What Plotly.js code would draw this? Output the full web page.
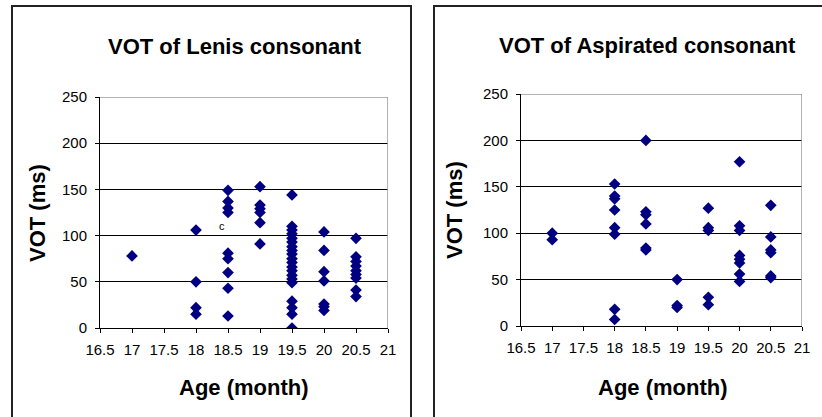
<!DOCTYPE html>
<html>
<head>
<meta charset="utf-8">
<script src="https://cdn.plot.ly/plotly-3.0.1.min.js"></script>
<style>html,body{margin:0;padding:0;background:#fff;}#chart{width:822px;height:417px;}</style>
</head>
<body>
<div id="chart"></div>
<script>
// ---- Data ----
const lenisAge = [
  17,
  18, 18, 18, 18,
  18.5, 18.5, 18.5, 18.5, 18.5, 18.5, 18.5, 18.5, 18.5,
  19, 19, 19, 19, 19, 19,
  19.5, 19.5, 19.5, 19.5, 19.5, 19.5, 19.5, 19.5, 19.5, 19.5, 19.5, 19.5, 19.5, 19.5, 19.5, 19.5, 19.5, 19.5, 19.5, 19.5,
  20, 20, 20, 20, 20, 20, 20,
  20.5, 20.5, 20.5, 20.5, 20.5, 20.5, 20.5, 20.5, 20.5
];
const lenisVot = [
  78,
  106, 50, 22, 15,
  149, 137, 130, 125, 81, 75, 60, 43, 13,
  153, 133, 129, 125, 114, 91,
  144, 110, 106, 102, 97, 93, 88, 84, 80, 75, 71, 66, 62, 57, 53, 49, 29, 22, 15, 0,
  104, 84, 61, 51, 26, 23, 19,
  97, 77, 72, 67, 62, 58, 54, 41, 34
];
const aspAge = [
  17, 17,
  18, 18, 18, 18, 18, 18, 18, 18,
  18.5, 18.5, 18.5, 18.5, 18.5, 18.5,
  19, 19, 19,
  19.5, 19.5, 19.5, 19.5, 19.5,
  20, 20, 20, 20, 20, 20, 20, 20,
  20.5, 20.5, 20.5, 20.5, 20.5, 20.5
];
const aspVot = [
  100, 93,
  153, 140, 137, 125, 106, 99, 18, 7,
  200, 123, 120, 110, 84, 82,
  50, 22, 20,
  127, 106, 103, 31, 23,
  177, 108, 103, 76, 72, 68, 56, 48,
  130, 96, 82, 79, 54, 52
];
const chartTitles = ["VOT of Lenis consonant", "VOT of Aspirated consonant"];
const xTitle = "Age (month)";
const yTitle = "VOT (ms)";
const xTickVals = [16.5, 17, 17.5, 18, 18.5, 19, 19.5, 20, 20.5, 21];
const yTickVals = [0, 50, 100, 150, 200, 250];
const noteLabel = {x: 18.41, y: 110, text: "c"};

// ---- Layout helpers ----
const W = 822, H = 417;
const px = v => v / W;
const py = v => 1 - v / H;
const FONT = "Liberation Sans, Arial, sans-serif";
const navy = "#000080";

const markerStyle = {symbol: "diamond", size: 9, color: navy, line: {width: 0}};

const traces = [
  {x: lenisAge, y: lenisVot, type: "scatter", mode: "markers", marker: markerStyle, xaxis: "x", yaxis: "y", showlegend: false, hoverinfo: "x+y"},
  {x: aspAge, y: aspVot, type: "scatter", mode: "markers", marker: markerStyle, xaxis: "x2", yaxis: "y2", showlegend: false, hoverinfo: "x+y"}
];

function xAxis(domain, anchor) {
  return {
    domain: domain, anchor: anchor, range: [16.5, 21], tickmode: "array", tickvals: xTickVals,
    showgrid: false, zeroline: false, showline: true, linecolor: "#000", linewidth: 1,
    ticks: "outside", ticklen: 4, tickcolor: "#000", tickwidth: 1, ticklabelstandoff: 4,
    tickfont: {family: FONT, size: 15, color: "#000"}, fixedrange: true
  };
}
function yAxis(domain, anchor) {
  return {
    domain: domain, anchor: anchor, range: [0, 250], tickmode: "array", tickvals: yTickVals,
    showgrid: true, gridcolor: "#000", gridwidth: 1, zeroline: false,
    showline: true, linecolor: "#000", linewidth: 1,
    ticks: "outside", ticklen: 4, tickcolor: "#000", tickwidth: 1, ticklabelstandoff: 5,
    tickfont: {family: FONT, size: 15, color: "#000"}, fixedrange: true
  };
}

const titleFont = {family: FONT, size: 22, color: "#000"};

const layout = {
  width: W, height: H,
  margin: {l: 0, r: 0, t: 0, b: 0},
  paper_bgcolor: "#fff", plot_bgcolor: "#fff",
  showlegend: false,
  xaxis: xAxis([px(100), px(388)], "y"),
  yaxis: yAxis([py(328), py(97)], "x"),
  xaxis2: xAxis([px(521), px(802)], "y2"),
  yaxis2: yAxis([py(326), py(94)], "x2"),
  annotations: [
    {text: "<b>" + chartTitles[0] + "</b>", xref: "paper", yref: "paper", x: px(235), y: py(47), xanchor: "center", yanchor: "middle", showarrow: false, font: titleFont},
    {text: "<b>" + chartTitles[1] + "</b>", xref: "paper", yref: "paper", x: px(647), y: py(45), xanchor: "center", yanchor: "middle", showarrow: false, font: titleFont},
    {text: "<b>" + xTitle + "</b>", xref: "paper", yref: "paper", x: px(244), y: py(387), xanchor: "center", yanchor: "middle", showarrow: false, font: titleFont},
    {text: "<b>" + xTitle + "</b>", xref: "paper", yref: "paper", x: px(663), y: py(387), xanchor: "center", yanchor: "middle", showarrow: false, font: titleFont},
    {text: "<b>" + yTitle + "</b>", xref: "paper", yref: "paper", x: px(37), y: py(213), xanchor: "center", yanchor: "middle", textangle: -90, showarrow: false, font: titleFont},
    {text: "<b>" + yTitle + "</b>", xref: "paper", yref: "paper", x: px(454), y: py(210), xanchor: "center", yanchor: "middle", textangle: -90, showarrow: false, font: titleFont},
    {text: noteLabel.text, xref: "x", yref: "y", x: noteLabel.x, y: noteLabel.y, xanchor: "center", yanchor: "middle", showarrow: false, font: {family: FONT, size: 11, color: "#000"}}
  ],
  shapes: [
    // panel frames
    {type: "path", xref: "paper", yref: "paper", path: `M ${px(12)} ${py(420)} L ${px(12)} ${py(6)} L ${px(411)} ${py(6)} L ${px(411)} ${py(420)}`, line: {color: "#222", width: 2}},
    {type: "path", xref: "paper", yref: "paper", path: `M ${px(434)} ${py(420)} L ${px(434)} ${py(6)} L ${px(830)} ${py(6)}`, line: {color: "#222", width: 2}},
    // grey plot-area border on top and right
    {type: "line", xref: "x", yref: "y", x0: 16.5, x1: 21, y0: 250, y1: 250, line: {color: "#999", width: 1.5}, layer: "above"},
    {type: "line", xref: "x", yref: "y", x0: 21, x1: 21, y0: 0, y1: 250, line: {color: "#999", width: 1.5}, layer: "above"},
    {type: "line", xref: "x2", yref: "y2", x0: 16.5, x1: 21, y0: 250, y1: 250, line: {color: "#999", width: 1.5}, layer: "above"},
    {type: "line", xref: "x2", yref: "y2", x0: 21, x1: 21, y0: 0, y1: 250, line: {color: "#999", width: 1.5}, layer: "above"}
  ]
};

Plotly.newPlot("chart", traces, layout, {displayModeBar: false, staticPlot: true});
</script>
</body>
</html>
